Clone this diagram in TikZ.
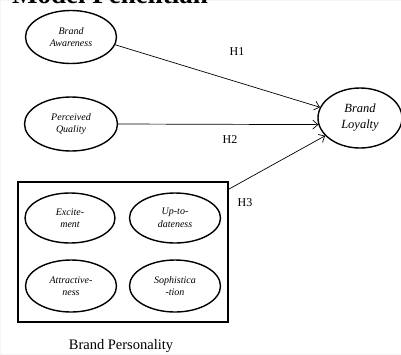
\documentclass[tikz,border=0pt]{standalone}
\usepackage{fontspec}
\setmainfont{Liberation Serif}
\usepackage{tikz}
\usetikzlibrary{shapes.geometric, arrows.meta, calc}

\begin{document}
\begin{tikzpicture}[x=1pt, y=-1pt, >={Straight Barb[length=5pt, width=9pt]},
  construct/.style={ellipse, draw, line width=1.4pt, inner sep=0pt, align=center,
    font=\itshape\fontsize{10}{12.5}\selectfont},
  hyplabel/.style={font=\fontsize{12}{14}\selectfont}]
\useasboundingbox (0,0) rectangle (401,354);
\draw[black!4, line width=0.5pt] (0,0) rectangle (401,354);
\begin{scope}
\clip (0,0) rectangle (401,354);
% title (cut off at the top)
\node[anchor=base west, inner sep=0pt, font=\bfseries\fontsize{27}{29}\selectfont] (title) at (12,3) {Model Penelitian};
\end{scope}

% left constructs
\node[construct, minimum width=91pt, minimum height=53pt] (aware) at (71,37) {Brand\\Awareness};
\node[construct, minimum width=93pt, minimum height=54pt] (quality) at (71,124) {Perceived\\Quality};
\node[construct, minimum width=84pt, minimum height=60pt, font=\itshape\fontsize{12.5}{16}\selectfont] (loyalty) at (360,118) {Brand\\Loyalty};

% brand personality box
\node[draw, line width=1.8pt, minimum width=210pt, minimum height=140pt, inner sep=0pt] (persbox) at (123,252) {};
\node[construct, minimum width=90pt, minimum height=50pt] (excite) at (70,218) {Excite-\\ment};
\node[construct, minimum width=91pt, minimum height=50pt] (uptodate) at (175,218) {Up-to-\\dateness};
\node[construct, minimum width=91pt, minimum height=52pt] (attract) at (71,286) {Attractive-\\ness};
\node[construct, minimum width=91pt, minimum height=52pt] (sophist) at (175,286) {Sophistica\\-tion};
\node[font=\fontsize{14.5}{16}\selectfont] (perslabel) at (121,346) {Brand Personality};

% hypotheses
\draw[->, line width=0.7pt] (aware.-10) -- (loyalty.165);
\draw[->, line width=0.7pt] (quality.east) -- (loyalty.189);
\draw[->, line width=0.7pt] ([yshift=-8pt]persbox.north east) -- (loyalty.207);
\node[hyplabel] (h1) at (237,52) {H1};
\node[hyplabel] (h2) at (230,140) {H2};
\node[hyplabel] (h3) at (245,203) {H3};
\end{tikzpicture}
\end{document}
